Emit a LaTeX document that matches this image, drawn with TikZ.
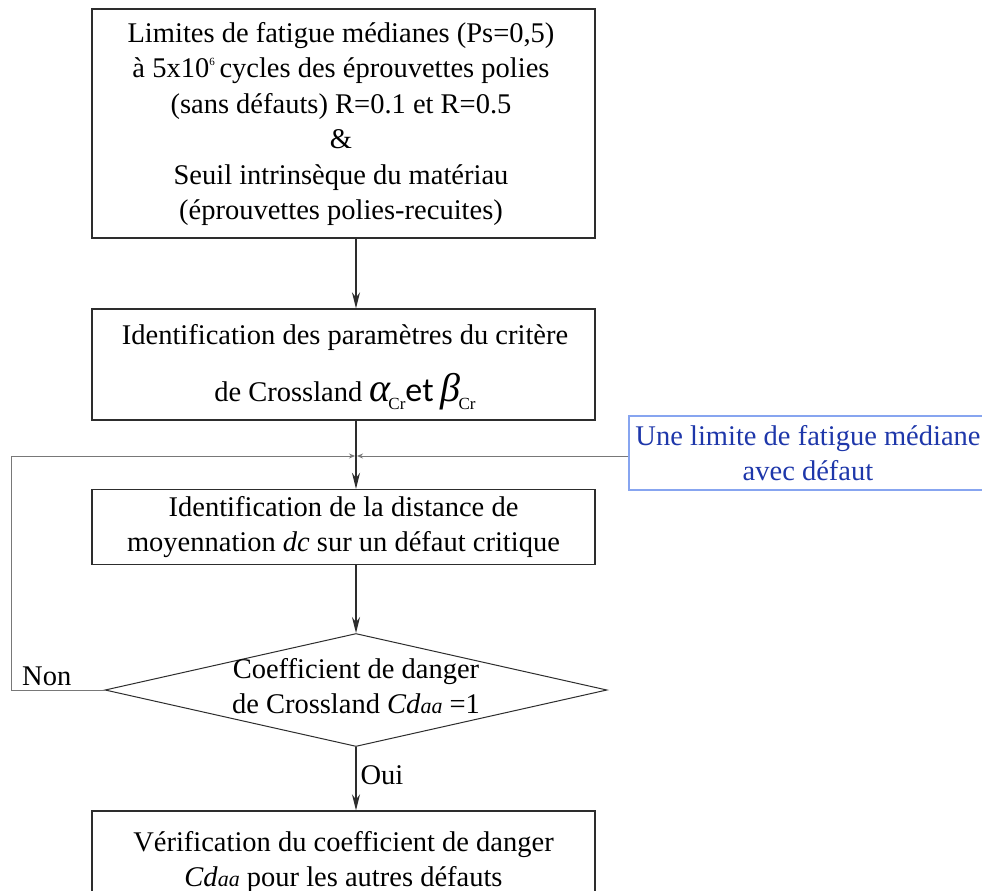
\documentclass[tikz,border=0pt]{standalone}
\usepackage{fontspec}
\setmainfont{Liberation Serif}
\newfontfamily\sansf{Carlito}
\usetikzlibrary{shapes.geometric,arrows.meta}
\definecolor{bluetxt}{RGB}{30,55,170}
\definecolor{blueedge}{RGB}{135,165,240}
\definecolor{linegray}{RGB}{45,45,45}
\definecolor{loopgray}{RGB}{120,120,120}
\newcommand{\greekbig}[1]{{\fontsize{40}{40}\selectfont\itshape #1}}
\newcommand{\subcr}{\raisebox{-8pt}{\fontsize{17}{17}\selectfont Cr}}
\newcommand{\cdaa}{\textit{Cd}{\fontsize{22}{22}\selectfont\textit{aa}}}
\tikzset{
  mainfont/.style={font=\fontsize{28.5}{35.5}\selectfont},
  box/.style={draw=linegray, line width=1.4pt, rectangle, inner sep=0pt, align=center, mainfont},
  decision/.style={draw=linegray, line width=1pt, diamond, inner sep=0pt},
  bluebox/.style={draw=blueedge, line width=1.2pt, rectangle, inner sep=0pt, align=center, text=bluetxt, mainfont},
  arrowline/.style={draw=linegray, line width=1.2pt, -{Stealth[length=16pt,width=8pt]}},
  loopline/.style={draw=loopgray, line width=1pt, -{Stealth[length=6pt,width=5pt]}},
  lbl/.style={mainfont, inner sep=0pt}
}
\begin{document}
\begin{tikzpicture}[x=1pt,y=-1pt]
\clip (0,0) rectangle (982,891);
\fill[white] (0,0) rectangle (982,891);

\node[box, minimum width=503pt, minimum height=229pt] (b1) at (343.5,123.5) {};
\node[lbl, align=center] (b1text) at (341,124)
 {Limites de fatigue médianes (Ps=0,5)\\
  à 5x10\raisebox{12pt}{\fontsize{11}{11}\selectfont 6}\,cycles des éprouvettes polies\\
  (sans défauts) R=0.1 et R=0.5\\
  \&\\
  Seuil intrinsèque du matériau\\
  (éprouvettes polies-recuites)};

\node[box, minimum width=503pt, minimum height=111pt] (b2) at (343.5,364.5) {};
\node[lbl, align=center] (b2text) at (345,367)
 {Identification des paramètres du critère\\[22pt]
  de Crossland \greekbig{α}\kern-2pt\subcr{\fontsize{34}{34}\sansf et} \greekbig{β}\kern-2pt\subcr};

\node[box, minimum width=503pt, minimum height=75pt] (b3) at (343.5,527)
 {Identification de la distance de\\
  moyennation \textit{dc} sur un défaut critique};

\node[decision, minimum width=502pt, minimum height=113pt] (dia) at (356,690) {};
\node[lbl, align=center] (diatext) at (356,686)
 {Coefficient de danger\\
  de Crossland \cdaa\ =1};

\node[box, minimum width=503pt, minimum height=120pt] (b4) at (343.5,871) {};
\node[lbl, align=center, anchor=north] (b4text) at (343.5,831)
 {Vérification du coefficient de danger\\
  \cdaa\ pour les autres défauts};

\node[bluebox, minimum width=358pt, minimum height=74pt] (blue) at (808,453)
 {Une limite de fatigue médiane\\ avec défaut};

\coordinate (jn) at (356,456);
\coordinate (loopc) at (11,456);

\draw[arrowline] (b1.south -| dia.north) -- (b2.north -| dia.north);
\draw[arrowline] (b2.south -| dia.north) -- (b3.north -| dia.north);
\draw[arrowline] (b3.south -| dia.north) -- (dia.north);
\draw[arrowline] (dia.south) -- node[lbl, right=4pt, pos=0.45] (oui) {Oui} (b4.north -| dia.south);

\draw[loopline] (dia.west) -| (loopc) -- ([xshift=-1pt]jn);
\draw[loopline] (blue.west |- jn) -- ([xshift=1pt]jn);
\node[lbl, anchor=south west] (non) at (22,686) {Non};
\end{tikzpicture}
\end{document}
